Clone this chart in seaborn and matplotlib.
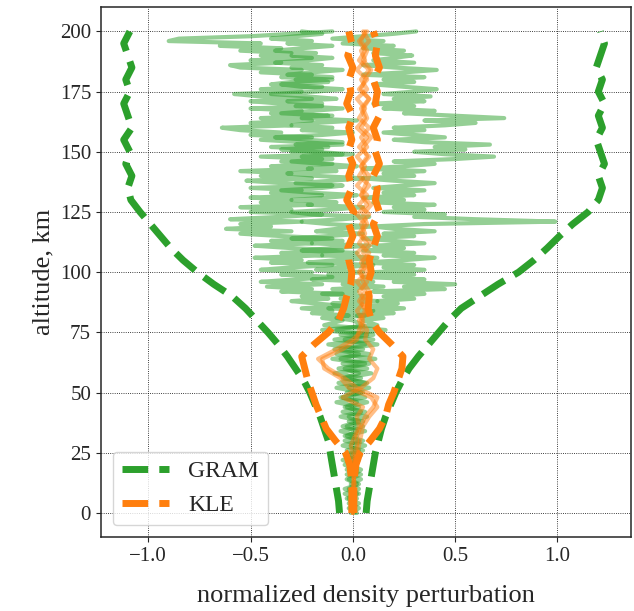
"""
Density perturbation profiles: GRAM samples vs KLE samples, with +/- bounds.
"""

import numpy as np
import pandas as pd
import matplotlib
matplotlib.use("Agg")
import matplotlib.pyplot as plt
import seaborn as sns
from matplotlib.lines import Line2D

# ---- data -------------------------------------------------------------
# GRAM sample profiles: 2 km grid below 80 km, 1 km grid above
alt_samples = list(range(0, 80, 2)) + list(range(80, 201))

gram_1 = [0.01, -0.02, 0.03, -0.03, 0.02, -0.04, 0.03, -0.02, 0.04, -0.03,
          0.02, -0.05, 0.04, -0.03, 0.06, -0.04, 0.02, -0.06, 0.05, -0.02,
          0.07, -0.05, 0.03, -0.08, 0.06, -0.03, 0.08, -0.07, 0.04, -0.09,
          0.07, -0.05, 0.11, -0.08, 0.05, -0.12, 0.10, -0.06, 0.16, -0.14,
          # 80 .. 200 km
          -0.05, -0.15, -0.02, -0.20, -0.10, -0.25, -0.05, -0.18, -0.30, -0.12,
          -0.25, -0.05, -0.35, -0.20, -0.42, -0.15, -0.45, -0.28, -0.10, -0.35,
          -0.20, -0.45, -0.30, -0.10, -0.40, -0.25, -0.48, -0.15, -0.35, -0.05,
          -0.30, -0.48, -0.20, -0.40, -0.10, -0.35, -0.55, -0.30, -0.62, -0.40,
          -0.55, -0.25, -0.60, -0.35, -0.15, -0.50, -0.30, -0.55, -0.20, -0.45,
          -0.30, -0.50, -0.15, -0.40, -0.25, -0.50, -0.10, -0.35, -0.52, -0.20,
          -0.45, -0.30, -0.55, -0.20, -0.40, -0.10, -0.35, -0.15, -0.45, -0.05,
          -0.30, -0.15, -0.40, -0.05, -0.25, -0.45, -0.20, -0.50, -0.35, -0.55,
          -0.64, -0.30, -0.50, -0.20, -0.45, -0.10, -0.40, -0.25, -0.50, -0.15,
          -0.35, -0.50, -0.20, -0.45, -0.58, -0.25, -0.45, -0.15, -0.40, -0.30,
          -0.10, -0.35, -0.20, -0.45, -0.25, -0.55, -0.60, -0.35, -0.50, -0.20,
          -0.45, -0.30, -0.55, -0.35, -0.65, -0.45, -0.90, -0.85, -0.50, -0.30,
          -0.10]

gram_2 = [-0.01, 0.03, -0.02, 0.02, -0.04, 0.03, -0.01, 0.04, -0.03, 0.02,
          -0.04, 0.03, -0.02, 0.05, -0.05, 0.03, -0.04, 0.06, -0.03, 0.05,
          -0.06, 0.04, -0.03, 0.07, -0.06, 0.05, -0.08, 0.06, -0.04, 0.09,
          -0.07, 0.06, -0.10, 0.08, -0.06, 0.12, -0.09, 0.07, -0.15, 0.12,
          # 80 .. 200 km
          0.05, 0.15, 0.02, 0.20, 0.10, 0.25, 0.08, 0.22, 0.12, 0.30,
          0.15, 0.35, 0.10, 0.45, 0.25, 0.50, 0.20, 0.35, 0.05, 0.30,
          0.10, 0.35, 0.15, 0.30, 0.05, 0.25, 0.40, 0.15, 0.30, 0.05,
          0.25, 0.10, 0.35, 0.20, 0.05, 0.30, 0.15, 0.40, 0.20, 0.10,
          0.35, 0.99, 0.60, 0.30, 0.45, 0.15, 0.35, 0.20, 0.40, 0.10,
          0.25, 0.05, 0.30, 0.15, 0.35, 0.10, 0.25, 0.40, 0.20, 0.05,
          0.30, 0.15, 0.35, 0.05, 0.25, 0.40, 0.20, 0.50, 0.69, 0.45,
          0.30, 0.55, 0.40, 0.67, 0.35, 0.20, 0.45, 0.30, 0.15, 0.35,
          0.20, 0.45, 0.60, 0.35, 0.74, 0.50, 0.25, 0.40, 0.15, 0.30,
          0.10, 0.35, 0.20, 0.38, 0.15, 0.30, 0.41, 0.25, 0.10, 0.30,
          0.15, 0.35, 0.05, 0.25, 0.41, 0.20, 0.05, 0.30, 0.10, 0.20,
          0.29, 0.10, 0.25, 0.05, 0.20, -0.05, 0.15, -0.10, 0.05, 0.20,
          0.31]

gram_3 = [0.02, -0.01, 0.01, -0.02, 0.03, -0.02, 0.02, -0.03, 0.01, 0.04,
          -0.02, 0.02, -0.04, 0.03, -0.01, 0.05, -0.03, 0.02, -0.05, 0.03,
          -0.02, 0.06, -0.04, 0.02, -0.05, 0.04, -0.02, 0.07, -0.05, 0.03,
          -0.04, 0.08, -0.06, 0.03, -0.09, 0.06, -0.04, 0.10, -0.08, 0.05,
          # 80 .. 200 km
          0.00, -0.08, 0.06, -0.05, 0.10, -0.12, 0.04, -0.10, 0.12, -0.06,
          0.08, -0.15, 0.02, -0.10, 0.15, -0.05, 0.10, -0.20, 0.00, -0.12,
          0.05, -0.18, -0.05, 0.10, -0.22, -0.08, 0.12, -0.15, 0.02, -0.25,
          -0.10, 0.08, -0.20, -0.05, -0.30, -0.12, 0.05, -0.18, -0.08, 0.10,
          -0.12, -0.25, -0.05, 0.08, -0.20, -0.30, -0.10, 0.05, -0.22, -0.08,
          -0.30, -0.12, 0.02, -0.20, -0.35, -0.15, -0.05, -0.28, -0.10, 0.05,
          -0.18, -0.32, -0.08, -0.22, 0.02, -0.15, -0.30, -0.10, -0.25, 0.00,
          -0.20, -0.35, -0.12, -0.28, -0.05, -0.22, -0.38, -0.15, 0.00, -0.25,
          -0.10, -0.30, -0.18, 0.02, -0.25, -0.12, -0.35, -0.20, -0.05, -0.28,
          -0.15, -0.32, -0.08, -0.22, -0.40, -0.18, -0.05, -0.25, -0.35, -0.12,
          -0.28, -0.10, -0.32, -0.20, -0.05, -0.30, -0.15, -0.38, -0.22, -0.10,
          -0.30, -0.18, -0.38, -0.25, -0.10, -0.32, -0.20, -0.40, -0.28, -0.15,
          -0.25]

# KLE samples on a 4 km grid
alt_kle = list(range(0, 201, 4))

kle_1 = [0.0, 0.0, 0.005, 0.0, 0.01, 0.0, 0.02, 0.03, 0.04, 0.05,
         0.08, 0.12, 0.09, -0.02, -0.06, -0.14, -0.15, -0.05, 0.02, 0.03,
         0.05, 0.02, 0.06, 0.03, 0.07, 0.03, 0.06, 0.02, 0.07, 0.03,
         0.06, 0.02, 0.07, 0.04, 0.08, 0.03, 0.06, 0.02, 0.07, 0.04,
         0.08, 0.03, 0.06, 0.02, 0.07, 0.04, 0.08, 0.03, 0.06, 0.03,
         0.07]

kle_2 = [0.0, 0.005, 0.0, 0.01, 0.0, 0.01, 0.0, -0.01, 0.01, 0.03,
         0.02, 0.05, -0.05, 0.04, 0.10, 0.12, 0.08, 0.10, 0.06, 0.07,
         0.04, 0.07, 0.03, 0.06, 0.02, 0.07, 0.04, 0.08, 0.03, 0.06,
         0.04, 0.08, 0.03, 0.07, 0.02, 0.06, 0.04, 0.08, 0.03, 0.07,
         0.02, 0.06, 0.04, 0.08, 0.03, 0.07, 0.02, 0.06, 0.04, 0.08,
         0.05]

kle_3 = [0.0, 0.0, 0.0, 0.005, 0.005, 0.01, 0.01, 0.02, 0.02, 0.04,
         0.06, 0.10, 0.12, 0.02, -0.04, -0.12, -0.17, -0.08, 0.0, 0.05,
         0.03, 0.06, 0.04, 0.08, 0.05, 0.04, 0.08, 0.05, 0.09, 0.04,
         0.07, 0.05, 0.09, 0.04, 0.06, 0.08, 0.04, 0.07, 0.05, 0.09,
         0.04, 0.07, 0.05, 0.08, 0.04, 0.06, 0.09, 0.05, 0.07, 0.04,
         0.06]

# bounds on a 5 km grid
alt_bounds = list(range(0, 201, 5))

gram_lower = [-0.065, -0.07, -0.08, -0.09, -0.10, -0.11, -0.12, -0.14, -0.16, -0.185,
              -0.21, -0.24, -0.28, -0.32, -0.365, -0.415, -0.47, -0.525, -0.59, -0.68,
              -0.76, -0.83, -0.89, -0.94, -0.99, -1.04, -1.085, -1.10, -1.08, -1.11,
              -1.09, -1.12, -1.08, -1.10, -1.12, -1.09, -1.11, -1.08, -1.10, -1.12,
              -1.09]

gram_upper = [0.065, 0.07, 0.08, 0.09, 0.10, 0.11, 0.125, 0.14, 0.16, 0.185,
              0.21, 0.24, 0.275, 0.32, 0.37, 0.42, 0.47, 0.53, 0.62, 0.71,
              0.81, 0.885, 0.95, 1.01, 1.075, 1.15, 1.20, 1.22, 1.20, 1.23,
              1.21, 1.19, 1.22, 1.20, 1.23, 1.20, 1.22, 1.19, 1.21, 1.23,
              1.21]

kle_lower = [-0.005, -0.005, -0.005, -0.008, -0.015, -0.035, -0.085, -0.13, -0.155, -0.18,
             -0.20, -0.22, -0.235, -0.25, -0.19, -0.12, -0.07, -0.045, -0.03, -0.01,
             -0.005, -0.02, -0.025, 0.0, -0.02, 0.005, -0.03, -0.005, -0.02, 0.0,
             -0.025, -0.005, -0.02, 0.0, -0.03, -0.01, -0.02, 0.0, -0.025, -0.005,
             -0.02]

kle_upper = [0.005, 0.005, 0.005, 0.008, 0.015, 0.035, 0.085, 0.13, 0.16, 0.175,
             0.20, 0.22, 0.24, 0.245, 0.19, 0.13, 0.09, 0.075, 0.08, 0.07,
             0.09, 0.08, 0.10, 0.12, 0.10, 0.13, 0.11, 0.12, 0.10, 0.13,
             0.11, 0.12, 0.10, 0.13, 0.11, 0.12, 0.10, 0.13, 0.11, 0.12,
             0.10]

GREEN = "#2ca02c"
ORANGE = "#ff7f0e"

# ---- style ------------------------------------------------------------
sns.set_style("ticks")
plt.rcParams["font.family"] = ["Liberation Serif", "DejaVu Serif"]
plt.rcParams["axes.linewidth"] = 1.1
plt.rcParams["xtick.labelsize"] = 15
plt.rcParams["ytick.labelsize"] = 15

n_g = len(alt_samples)
gram_df = pd.DataFrame({
    "alt": alt_samples * 3,
    "value": gram_1 + gram_2 + gram_3,
    "sample": [0] * n_g + [1] * n_g + [2] * n_g,
})
n_k = len(alt_kle)
kle_df = pd.DataFrame({
    "alt": alt_kle * 3,
    "value": kle_1 + kle_2 + kle_3,
    "sample": [0] * n_k + [1] * n_k + [2] * n_k,
})

fig, ax = plt.subplots(figsize=(6.34, 6.11), dpi=100)
fig.subplots_adjust(left=0.159, right=0.996, bottom=0.121, top=0.988)

sns.lineplot(data=gram_df, x="value", y="alt", units="sample", estimator=None,
             sort=False, color=GREEN, lw=3, alpha=0.5, legend=False, ax=ax)
sns.lineplot(data=kle_df, x="value", y="alt", units="sample", estimator=None,
             sort=False, color=ORANGE, lw=3, alpha=0.5, legend=False, ax=ax)

for vals in (gram_lower, gram_upper):
    sns.lineplot(x=vals, y=alt_bounds, sort=False, estimator=None, color=GREEN,
                 lw=5, linestyle="--", ax=ax)
for vals in (kle_lower, kle_upper):
    sns.lineplot(x=vals, y=alt_bounds, sort=False, estimator=None, color=ORANGE,
                 lw=5, linestyle="--", ax=ax)

ax.set_xlim(-1.232, 1.362)
ax.set_ylim(-10, 210)
ax.set_xticks([-1.0, -0.5, 0.0, 0.5, 1.0])
ax.set_yticks(range(0, 201, 25))
ax.grid(True, color="k", linestyle=":", linewidth=0.6)
ax.set_axisbelow(True)
ax.set_xlabel("normalized density perturbation", fontsize=19, labelpad=14)
ax.set_ylabel("altitude, km", fontsize=19)

handles = [Line2D([], [], color=GREEN, lw=5, linestyle="--"),
           Line2D([], [], color=ORANGE, lw=5, linestyle="--")]
ax.legend(handles, ["GRAM", "KLE"], loc="lower left", fontsize=17)

plt.savefig("out.png", dpi=100)
plt.close()
